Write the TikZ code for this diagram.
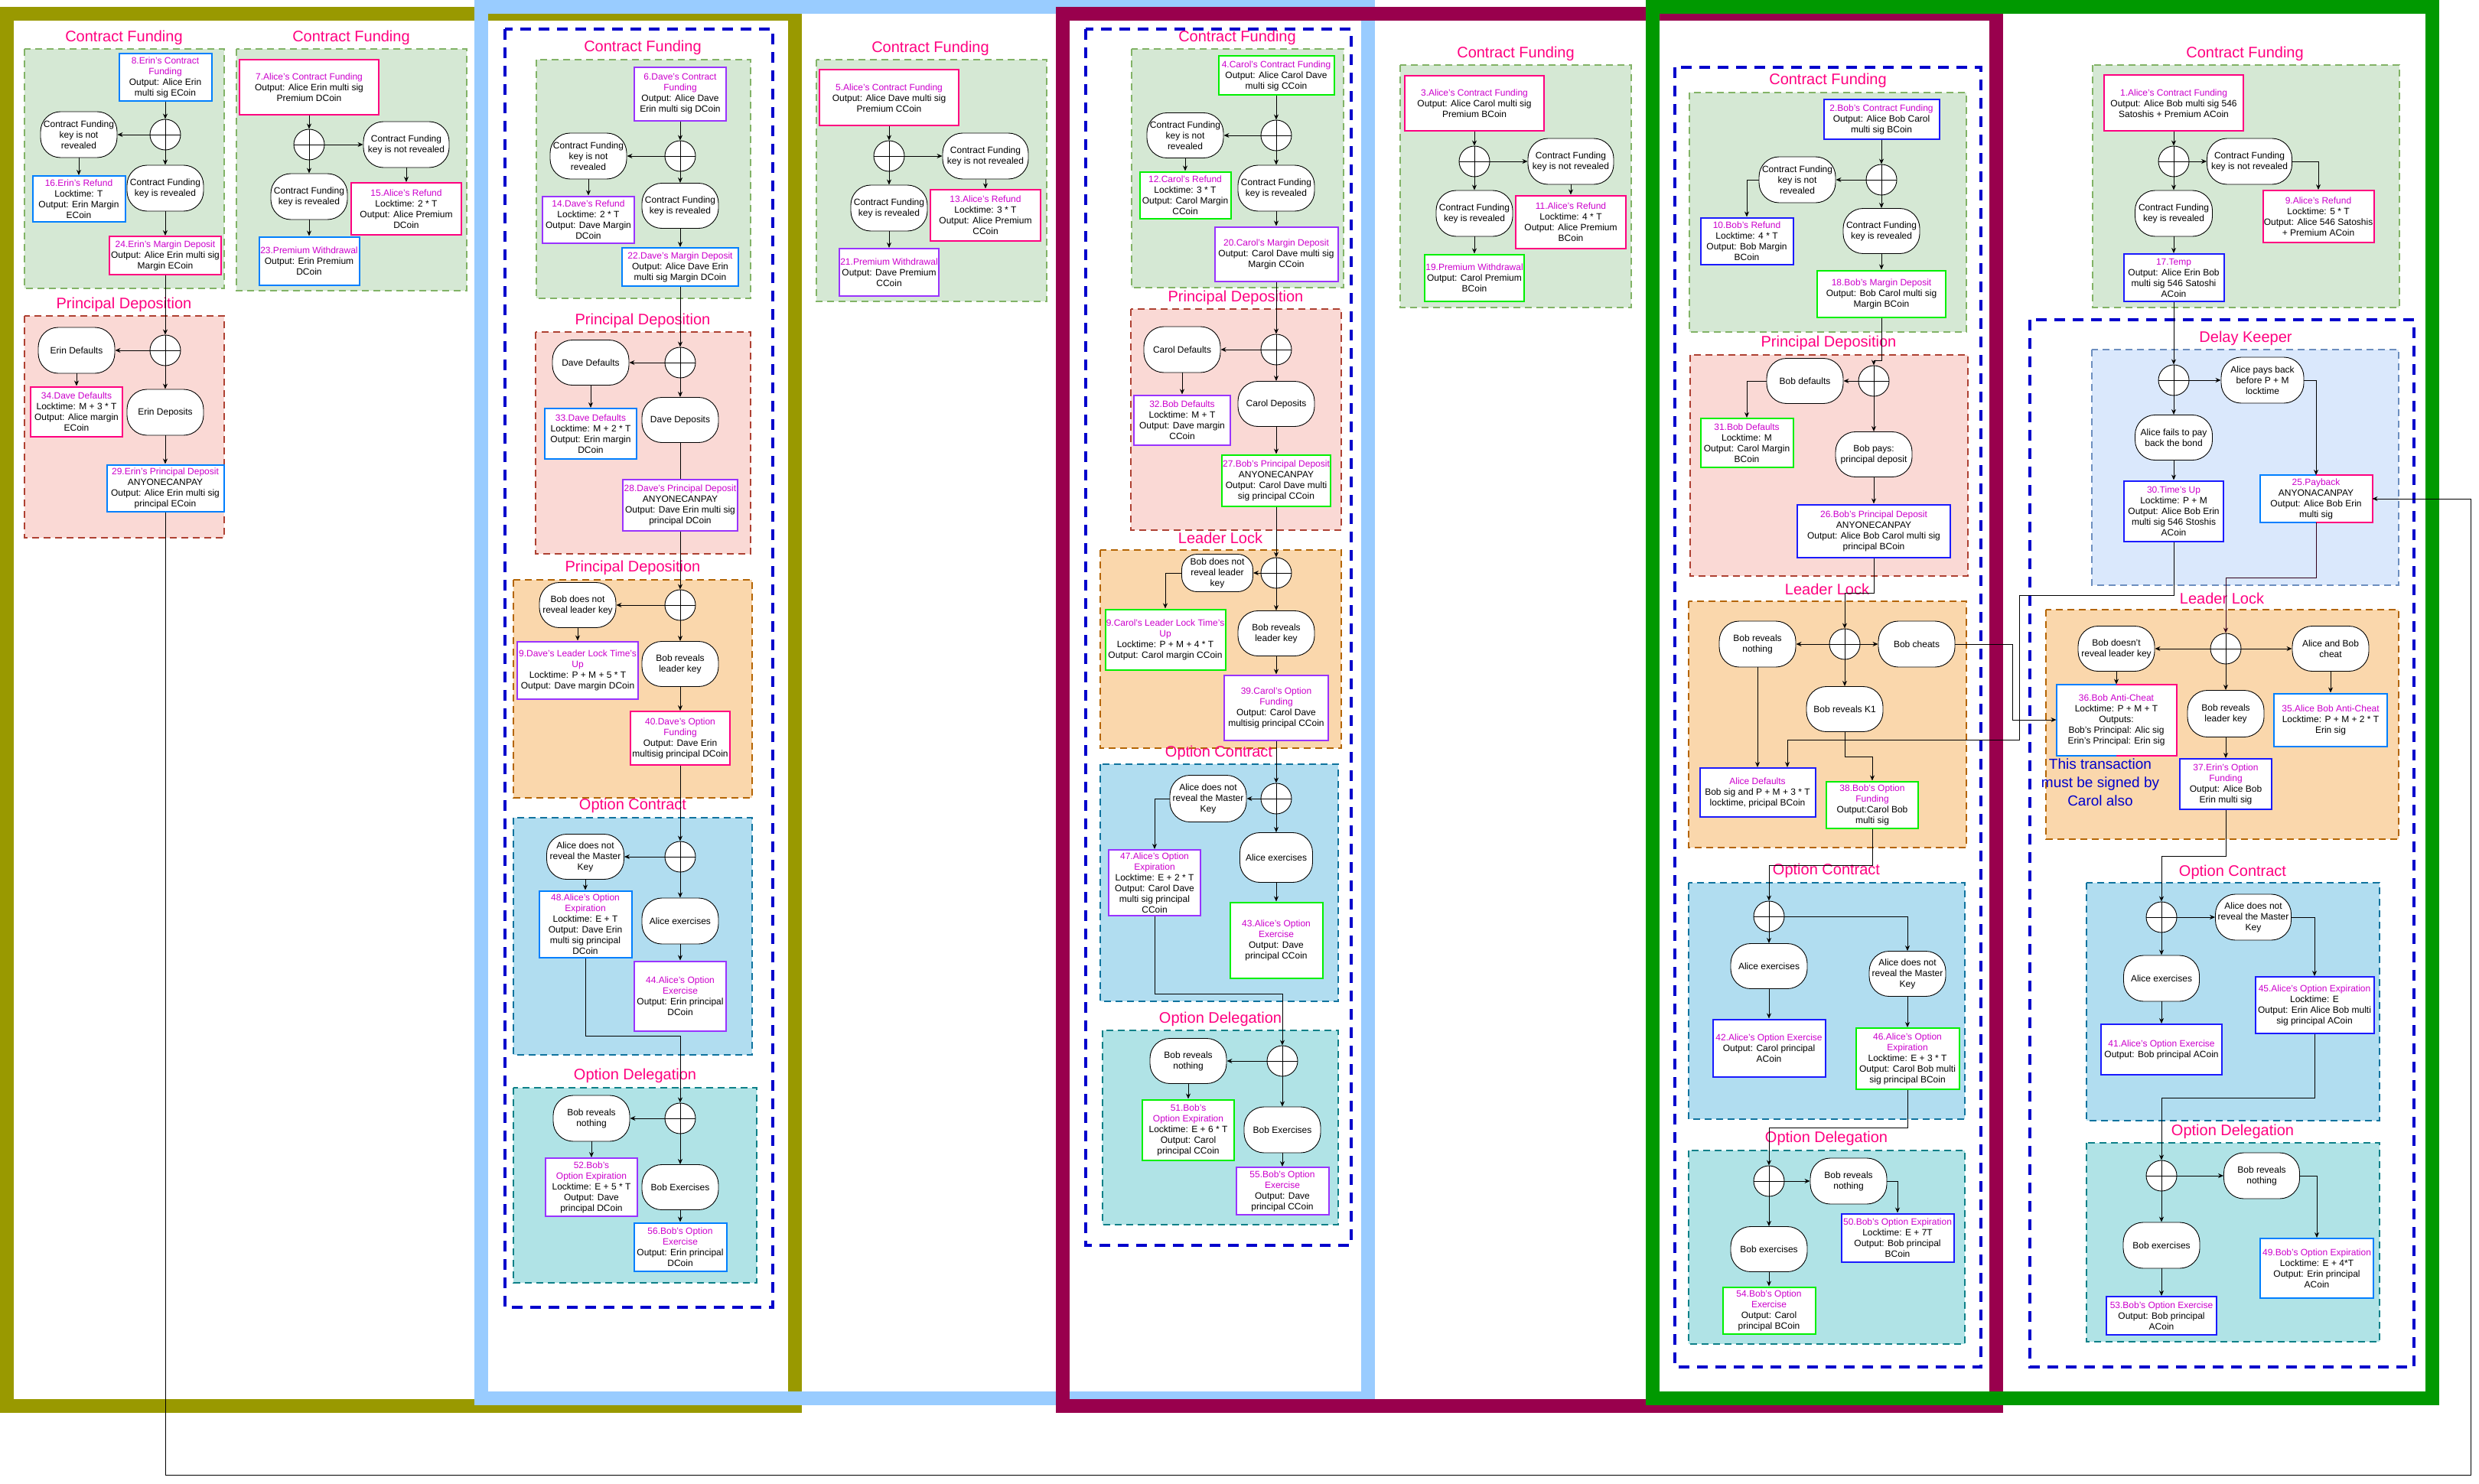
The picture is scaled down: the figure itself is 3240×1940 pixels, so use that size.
\documentclass[tikz,border=0pt]{standalone}
\usepackage{fontspec}
\setmainfont{Liberation Sans}
\usetikzlibrary{arrows.meta}

\definecolor{frOlive}{HTML}{999900}
\definecolor{frSky}{HTML}{99CCFF}
\definecolor{frWine}{HTML}{99004D}
\definecolor{frGreen}{HTML}{009900}
\definecolor{secPink}{HTML}{FF0080}
\definecolor{tMag}{HTML}{CC00CC}
\definecolor{bPink}{HTML}{FF0080}
\definecolor{bBlue}{HTML}{007FFF}
\definecolor{bDBlue}{HTML}{1A1AFF}
\definecolor{bPurp}{HTML}{9933FF}
\definecolor{bGreen}{HTML}{00F000}
\definecolor{outBlue}{HTML}{0000CC}
\definecolor{cgF}{HTML}{D5E8D4}\definecolor{cgD}{HTML}{82B366}
\definecolor{crF}{HTML}{FAD9D5}\definecolor{crD}{HTML}{AE4132}
\definecolor{coF}{HTML}{FAD7AC}\definecolor{coD}{HTML}{B46504}
\definecolor{cbF}{HTML}{B1DDF0}\definecolor{cbD}{HTML}{10739E}
\definecolor{ctF}{HTML}{B0E3E6}\definecolor{ctD}{HTML}{0E8088}
\definecolor{clF}{HTML}{DAE8FC}\definecolor{clD}{HTML}{6C8EBF}
\definecolor{wireDark}{HTML}{330019}

\newcommand\tn[1]{\textcolor{tMag}{#1}}
\newcommand\bodyfont{\fontsize{12}{14}\selectfont}

\begin{document}
\begin{tikzpicture}[x=1pt,y=-1pt,
  tx/.style={draw=#1, line width=2pt, fill=white, align=center, inner sep=1pt, font=\bodyfont},
  sz/.style 2 args={minimum width=#1pt, minimum height=#2pt},
  ev/.style={draw=black, line width=0.9pt, fill=white, align=center, inner sep=1pt, rounded corners=26pt, font=\bodyfont},
  xr/.style={circle, draw=black, line width=0.9pt, fill=white, minimum size=40pt, inner sep=0pt,
    path picture={\draw[line width=0.9pt] (path picture bounding box.north) -- (path picture bounding box.south)
      (path picture bounding box.west) -- (path picture bounding box.east);}},
  sec/.style={text=secPink, font=\fontsize{20}{24}\selectfont, inner sep=0pt},
  note/.style={text=outBlue, font=\fontsize{19}{24}\selectfont, align=center, inner sep=0pt},
  arr/.style={line width=1pt, -{Stealth[length=7pt,width=6pt]}},
  ln/.style={line width=1pt},
  box/.style 2 args={fill=#1, draw=#2, line width=2pt, dash pattern=on 9pt off 6pt},
  cg/.style={box={cgF}{cgD}}, cr/.style={box={crF}{crD}}, co/.style={box={coF}{coD}},
  cb/.style={box={cbF}{cbD}}, ct/.style={box={ctF}{ctD}}, cl/.style={box={clF}{clD}},
  ob/.style={draw=outBlue, line width=3.5pt, dash pattern=on 14pt off 10pt},
  fr/.style={draw=#1, line width=18pt}
]
\useasboundingbox (0,0) rectangle (3240,1940);
\fill[white] (0,0) rectangle (3240,1940);

% ---------- coloured party frames ----------
\draw[fr=frOlive] (9,18) rectangle (1039,1838);
\draw[fr=frSky] (629,9) rectangle (1788,1828);
\draw[fr=frWine] (1389,18) rectangle (2609,1838);
\draw[fr=frGreen] (2160,9) rectangle (3179,1828);

% ---------- phase containers ----------
% Erin / Alice-Erin premium
\draw[cg] (32,64) rectangle (293,377);
\draw[cr] (32,413) rectangle (293,703);
\draw[cg] (309,64) rectangle (610,380);
% Dave
\draw[ob] (660,38) rectangle (1010,1709);
\draw[cg] (701,78) rectangle (981,390);
\draw[cr] (700,434) rectangle (981,724);
\draw[co] (671,758) rectangle (983,1043);
\draw[cb] (671,1069) rectangle (983,1379);
\draw[ct] (671,1422) rectangle (989,1677);
\draw[cg] (1067,78) rectangle (1368,394);
% Carol
\draw[ob] (1419,38) rectangle (1766,1628);
\draw[cg] (1479,64) rectangle (1756,376);
\draw[cr] (1478,404) rectangle (1753,693);
\draw[co] (1438,719) rectangle (1753,978);
\draw[cb] (1438,999) rectangle (1749,1309);
\draw[ct] (1441,1347) rectangle (1749,1601);
\draw[cg] (1830,85) rectangle (2132,402);
% Bob
\draw[ob] (2189,88) rectangle (2589,1787);
\draw[cg] (2208,121) rectangle (2570,434);
\draw[cr] (2209,464) rectangle (2572,753);
\draw[co] (2207,786) rectangle (2570,1108);
\draw[cb] (2207,1154) rectangle (2568,1463);
\draw[ct] (2207,1504) rectangle (2568,1757);
% Alice
\draw[cg] (2735,85) rectangle (3136,402);
\draw[ob] (2653,418) rectangle (3155,1787);
\draw[cl] (2734,457) rectangle (3135,765);
\draw[co] (2674,797) rectangle (3135,1097);
\draw[cb] (2727,1154) rectangle (3110,1465);
\draw[ct] (2727,1494) rectangle (3110,1754);

% ---------- phase titles ----------
\node[sec] (ta1) at (162,49) {Contract Funding};
\node[sec] (ta2) at (162,398) {Principal Deposition};
\node[sec] (tb1) at (459,49) {Contract Funding};
\node[sec] (tc1) at (840,62) {Contract Funding};
\node[sec] (tc2) at (840,419) {Principal Deposition};
\node[sec] (tc3) at (827,742) {Principal Deposition};
\node[sec] (tc4) at (827,1053) {Option Contract};
\node[sec] (tc5) at (830,1406) {Option Delegation};
\node[sec] (td1) at (1216,63) {Contract Funding};
\node[sec] (te1) at (1617,49) {Contract Funding};
\node[sec] (te2) at (1615,389) {Principal Deposition};
\node[sec] (te3) at (1595,703) {Leader Lock};
\node[sec] (te4) at (1593,984) {Option Contract};
\node[sec] (te5) at (1595,1332) {Option Delegation};
\node[sec] (tf1) at (1981,70) {Contract Funding};
\node[sec] (tg1) at (2389,105) {Contract Funding};
\node[sec] (tg2) at (2390,448) {Principal Deposition};
\node[sec] (tg3) at (2388,770) {Leader Lock};
\node[sec] (tg4) at (2387,1138) {Option Contract};
\node[sec] (tg5) at (2387,1488) {Option Delegation};
\node[sec] (th1) at (2934,70) {Contract Funding};
\node[sec] (th2) at (2935,442) {Delay Keeper};
\node[sec] (th3) at (2904,782) {Leader Lock};
\node[sec] (th4) at (2918,1140) {Option Contract};
\node[sec] (th5) at (2918,1479) {Option Delegation};

% ---------- Erin ----------
\node[tx=bBlue, sz={121}{62}] (n8) at (216,101) {\tn{8.Erin's Contract}\\\tn{Funding}\\Output: Alice Erin\\multi sig ECoin};
\node[xr] (xa1) at (216,176) {};
\node[ev, sz={100}{60}] (ea1) at (103,176) {Contract Funding\\key is not\\revealed};
\node[tx=bBlue, sz={121}{60}] (n16) at (103,260) {\tn{16.Erin's Refund}\\Locktime: T\\Output: Erin Margin\\ECoin};
\node[ev, sz={100}{60}] (ea2) at (216,246) {Contract Funding\\key is revealed};
\node[tx=bPink, sz={146}{50}] (n24) at (216,334) {\tn{24.Erin's Margin Deposit}\\Output: Alice Erin multi sig\\Margin ECoin};
\node[xr] (xa2) at (216,458) {};
\node[ev, sz={100}{60}] (ea3) at (100,458) {Erin Defaults};
\node[tx=bPink, sz={120}{65}] (n34) at (100,538) {\tn{34.Dave Defaults}\\Locktime: M + 3 * T\\Output: Alice margin\\ECoin};
\node[ev, sz={100}{60}] (ea4) at (216,539) {Erin Deposits};
\node[tx=bBlue, sz={153}{61}] (n29) at (216,638) {\tn{29.Erin's Principal Deposit}\\ANYONECANPAY\\Output: Alice Erin multi sig\\principal ECoin};

% ---------- Alice / Erin premium ----------
\node[tx=bPink, sz={182}{72}] (n7) at (404,114) {\tn{7.Alice's Contract Funding}\\Output: Alice Erin multi sig\\Premium DCoin};
\node[xr] (xb) at (404,189) {};
\node[ev, sz={112}{60}] (eb1) at (531,189) {Contract Funding\\key is not revealed};
\node[tx=bPink, sz={144}{68}] (n15) at (531,273) {\tn{15.Alice's Refund}\\Locktime: 2 * T\\Output: Alice Premium\\DCoin};
\node[ev, sz={100}{60}] (eb2) at (404,257) {Contract Funding\\key is revealed};
\node[tx=bBlue, sz={131}{63}] (n23) at (404,341) {\tn{23.Premium Withdrawal}\\Output: Erin Premium\\DCoin};

% ---------- Dave ----------
\node[tx=bPurp, sz={120}{70}] (n6) at (889,123) {\tn{6.Dave's Contract}\\\tn{Funding}\\Output: Alice Dave\\Erin multi sig DCoin};
\node[xr] (xc1) at (889,204) {};
\node[ev, sz={100}{60}] (ec1) at (769,204) {Contract Funding\\key is not\\revealed};
\node[tx=bPurp, sz={120}{61}] (n14) at (769,287) {\tn{14.Dave's Refund}\\Locktime: 2 * T\\Output: Dave Margin\\DCoin};
\node[ev, sz={100}{59}] (ec2) at (889,269) {Contract Funding\\key is revealed};
\node[tx=bBlue, sz={152}{50}] (n22) at (889,349) {\tn{22.Dave's Margin Deposit}\\Output: Alice Dave Erin\\multi sig Margin DCoin};
\node[xr] (xc2) at (889,474) {};
\node[ev, sz={100}{59}] (ec3) at (772,474) {Dave Defaults};
\node[tx=bBlue, sz={120}{66}] (n33) at (772,567) {\tn{33.Dave Defaults}\\Locktime: M + 2 * T\\Output: Erin margin\\DCoin};
\node[ev, sz={100}{59}] (ec4) at (889,549) {Dave Deposits};
\node[tx=bPurp, sz={150}{67}] (n28) at (889,660) {\tn{28.Dave's Principal Deposit}\\ANYONECANPAY\\Output: Dave Erin multi sig\\principal DCoin};
\node[xr] (xc3) at (889,791) {};
\node[ev, sz={100}{59}] (ec5) at (755,791) {Bob does not\\reveal leader key};
\node[tx=bPurp, sz={158}{75}] (n9d) at (755,876) {\tn{9.Dave's Leader Lock Time's}\\\tn{Up}\\Locktime: P + M + 5 * T\\Output: Dave margin DCoin};
\node[ev, sz={100}{59}] (ec6) at (889,868) {Bob reveals\\leader key};
\node[tx=bPink, sz={130}{70}] (n40) at (889,965) {\tn{40.Dave's Option}\\\tn{Funding}\\Output: Dave Erin\\multisig principal DCoin};
\node[xr] (xc4) at (889,1120) {};
\node[ev, sz={101}{59}] (ec7) at (765,1120) {Alice does not\\reveal the Master\\Key};
\node[tx=bBlue, sz={121}{87}] (n48) at (765,1208) {\tn{48.Alice's Option}\\\tn{Expiration}\\Locktime: E + T\\Output: Dave Erin\\multi sig principal\\DCoin};
\node[ev, sz={100}{60}] (ec8) at (889,1204) {Alice exercises};
\node[tx=bPurp, sz={120}{91}] (n44) at (889,1302) {\tn{44.Alice's Option}\\\tn{Exercise}\\Output: Erin principal\\DCoin};
\node[xr] (xc5) at (889,1462) {};
\node[ev, sz={100}{60}] (ec9) at (773,1462) {Bob reveals\\nothing};
\node[tx=bPurp, sz={120}{76}] (n52) at (773,1552) {\tn{52.Bob's}\\\tn{Option Expiration}\\Locktime: E + 5 * T\\Output: Dave\\principal DCoin};
\node[ev, sz={100}{59}] (ec10) at (889,1552) {Bob Exercises};
\node[tx=bBlue, sz={121}{63}] (n56) at (889,1630) {\tn{56.Bob's Option}\\\tn{Exercise}\\Output: Erin principal\\DCoin};

% ---------- Alice / Dave premium ----------
\node[tx=bPink, sz={182}{73}] (n5) at (1162,128) {\tn{5.Alice's Contract Funding}\\Output: Alice Dave multi sig\\Premium CCoin};
\node[xr] (xd) at (1162,204) {};
\node[ev, sz={112}{60}] (ed1) at (1288,204) {Contract Funding\\key is not revealed};
\node[tx=bPink, sz={144}{67}] (n13) at (1288,281) {\tn{13.Alice's Refund}\\Locktime: 3 * T\\Output: Alice Premium\\CCoin};
\node[ev, sz={100}{60}] (ed2) at (1162,272) {Contract Funding\\key is revealed};
\node[tx=bPurp, sz={130}{62}] (n21) at (1162,356) {\tn{21.Premium Withdrawal}\\Output: Dave Premium\\CCoin};

% ---------- Carol ----------
\node[tx=bGreen, sz={151}{51}] (n4) at (1668,99) {\tn{4.Carol's Contract Funding}\\Output: Alice Carol Dave\\multi sig CCoin};
\node[xr] (xe1) at (1668,177) {};
\node[ev, sz={100}{59}] (ee1) at (1549,177) {Contract Funding\\key is not\\revealed};
\node[tx=bGreen, sz={119}{61}] (n12) at (1549,255) {\tn{12.Carol's Refund}\\Locktime: 3 * T\\Output: Carol Margin\\CCoin};
\node[ev, sz={100}{60}] (ee2) at (1668,246) {Contract Funding\\key is revealed};
\node[tx=bPurp, sz={161}{71}] (n20) at (1668,332) {\tn{20.Carol's Margin Deposit}\\Output: Carol Dave multi sig\\Margin CCoin};
\node[xr] (xe2) at (1668,457) {};
\node[ev, sz={100}{60}] (ee3) at (1545,457) {Carol Defaults};
\node[tx=bPurp, sz={126}{65}] (n32) at (1545,549) {\tn{32.Bob Defaults}\\Locktime: M + T\\Output: Dave margin\\CCoin};
\node[ev, sz={100}{59}] (ee4) at (1668,528) {Carol Deposits};
\node[tx=bGreen, sz={142}{67}] (n27) at (1668,628) {\tn{27.Bob's Principal Deposit}\\ANYONECANPAY\\Output: Carol Dave multi\\sig principal CCoin};
\node[xr] (xe3) at (1668,749) {};
\node[ev, sz={93}{49}, rounded corners=20pt] (ee5) at (1591,749) {Bob does not\\reveal leader\\key};
\node[tx=bGreen, sz={157}{79}] (n9c) at (1523,836) {\tn{9.Carol's Leader Lock Time's}\\\tn{Up}\\Locktime: P + M + 4 * T\\Output: Carol margin CCoin};
\node[ev, sz={100}{59}] (ee6) at (1668,828) {Bob reveals\\leader key};
\node[tx=bPurp, sz={136}{85}] (n39) at (1668,925) {\tn{39.Carol's Option}\\\tn{Funding}\\Output: Carol Dave\\multisig principal CCoin};
\node[xr] (xe4) at (1668,1044) {};
\node[ev, sz={100}{61}] (ee7) at (1579,1044) {Alice does not\\reveal the Master\\Key};
\node[tx=bPurp, sz={120}{86}] (n47) at (1509,1154) {\tn{47.Alice's Option}\\\tn{Expiration}\\Locktime: E + 2 * T\\Output: Carol Dave\\multi sig principal\\CCoin};
\node[ev, sz={95}{65}] (ee8) at (1668,1121) {Alice exercises};
\node[tx=bGreen, sz={121}{99}] (n43) at (1668,1229) {\tn{43.Alice's Option}\\\tn{Exercise}\\Output: Dave\\principal CCoin};
\node[xr] (xe5) at (1676,1387) {};
\node[ev, sz={100}{59}] (ee9) at (1553,1387) {Bob reveals\\nothing};
\node[tx=bGreen, sz={120}{79}] (n51) at (1553,1477) {\tn{51.Bob's}\\\tn{Option Expiration}\\Locktime: E + 6 * T\\Output: Carol\\principal CCoin};
\node[ev, sz={100}{60}] (ee10) at (1676,1477) {Bob Exercises};
\node[tx=bPurp, sz={121}{62}] (n55) at (1676,1557) {\tn{55.Bob's Option}\\\tn{Exercise}\\Output: Dave\\principal CCoin};

% ---------- Alice / Carol premium ----------
\node[tx=bPink, sz={182}{72}] (n3) at (1927,135) {\tn{3.Alice's Contract Funding}\\Output: Alice Carol multi sig\\Premium BCoin};
\node[xr] (xf) at (1927,211) {};
\node[ev, sz={112}{60}] (ef1) at (2053,211) {Contract Funding\\key is not revealed};
\node[tx=bPink, sz={144}{69}] (n11) at (2053,290) {\tn{11.Alice's Refund}\\Locktime: 4 * T\\Output: Alice Premium\\BCoin};
\node[ev, sz={100}{60}] (ef2) at (1927,279) {Contract Funding\\key is revealed};
\node[tx=bGreen, sz={130}{61}] (n19) at (1927,363) {\tn{19.Premium Withdrawal}\\Output: Carol Premium\\BCoin};

% ---------- Bob ----------
\node[tx=bDBlue, sz={151}{51}] (n2) at (2459,156) {\tn{2.Bob's Contract Funding}\\Output: Alice Bob Carol\\multi sig BCoin};
\node[xr] (xg1) at (2459,235) {};
\node[ev, sz={100}{60}] (eg1) at (2349,235) {Contract Funding\\key is not\\revealed};
\node[tx=bDBlue, sz={121}{61}] (n10) at (2283,315) {\tn{10.Bob's Refund}\\Locktime: 4 * T\\Output: Bob Margin\\BCoin};
\node[ev, sz={100}{59}] (eg2) at (2459,302) {Contract Funding\\key is revealed};
\node[tx=bGreen, sz={168}{61}] (n18) at (2459,384) {\tn{18.Bob's Margin Deposit}\\Output: Bob Carol multi sig\\Margin BCoin};
\node[xr] (xg2) at (2449,498) {};
\node[ev, sz={100}{59}] (eg3) at (2359,498) {Bob defaults};
\node[tx=bGreen, sz={121}{64}] (n31) at (2283,579) {\tn{31.Bob Defaults}\\Locktime: M\\Output: Carol Margin\\BCoin};
\node[ev, sz={100}{59}] (eg4) at (2449,594) {Bob pays:\\principal deposit};
\node[tx=bDBlue, sz={200}{69}] (n26) at (2449,694) {\tn{26.Bob's Principal Deposit}\\ANYONECANPAY\\Output: Alice Bob Carol multi sig\\principal BCoin};
\node[xr] (xg3) at (2411,842) {};
\node[ev, sz={100}{60}] (eg5) at (2297,842) {Bob reveals\\nothing};
\node[ev, sz={100}{60}] (eg6) at (2505,842) {Bob cheats};
\node[ev, sz={100}{59}] (eg7) at (2411,927) {Bob reveals K1};
\node[tx=bDBlue, sz={151}{64}] (nad) at (2297,1036) {\tn{Alice Defaults}\\Bob sig and P + M + 3 * T\\locktime, pricipal BCoin};
\node[tx=bGreen, sz={120}{61}] (n38) at (2447,1052) {\tn{38.Bob's Option}\\\tn{Funding}\\Output:Carol Bob\\multi sig};
\node[xr] (xg4) at (2312,1198) {};
\node[ev, sz={100}{59}] (eg8) at (2312,1263) {Alice exercises};
\node[tx=bDBlue, sz={147}{75}] (n42) at (2312,1370) {\tn{42.Alice's Option Exercise}\\Output: Carol principal\\ACoin};
\node[ev, sz={100}{59}] (eg9) at (2493,1273) {Alice does not\\reveal the Master\\Key};
\node[tx=bGreen, sz={135}{80}] (n46) at (2493,1384) {\tn{46.Alice's Option}\\\tn{Expiration}\\Locktime: E + 3 * T\\Output: Carol Bob multi\\sig principal BCoin};
\node[xr] (xg5) at (2312,1544) {};
\node[ev, sz={100}{60}] (eg10) at (2416,1544) {Bob reveals\\nothing};
\node[tx=bDBlue, sz={147}{63}] (n50) at (2480,1618) {\tn{50.Bob's Option Expiration}\\Locktime: E + 7T\\Output: Bob principal\\BCoin};
\node[ev, sz={100}{59}] (eg11) at (2312,1633) {Bob exercises};
\node[tx=bGreen, sz={121}{61}] (n54) at (2312,1713) {\tn{54.Bob's Option}\\\tn{Exercise}\\Output: Carol\\principal BCoin};

% ---------- Alice ----------
\node[tx=bPink, sz={182}{73}] (n1) at (2841,135) {\tn{1.Alice's Contract Funding}\\Output: Alice Bob multi sig 546\\Satoshis + Premium ACoin};
\node[xr] (xh1) at (2841,211) {};
\node[ev, sz={111}{60}] (eh1) at (2940,211) {Contract Funding\\key is not revealed};
\node[tx=bPink, sz={145}{68}] (n9a) at (3030,283) {\tn{9.Alice's Refund}\\Locktime: 5 * T\\Output: Alice 546 Satoshis\\+ Premium ACoin};
\node[ev, sz={101}{60}] (eh2) at (2841,279) {Contract Funding\\key is revealed};
\node[tx=bDBlue, sz={131}{62}] (n17) at (2841,363) {\tn{17.Temp}\\Output: Alice Erin Bob\\multi sig 546 Satoshi\\ACoin};
\node[xr] (xh2) at (2841,497) {};
\node[ev, sz={108}{60}] (eh3) at (2957,497) {Alice pays back\\before P + M\\locktime};
\node[tx=none, sz={145}{60}] (n25) at (3027,652) {\tn{25.Payback}\\ANYONACANPAY\\Output: Alice Bob Erin\\multi sig};
\node[ev, sz={101}{59}] (eh4) at (2841,572) {Alice fails to pay\\back the bond};
\node[tx=bDBlue, sz={130}{79}] (n30) at (2841,668) {\tn{30.Time's Up}\\Locktime: P + M\\Output: Alice Bob Erin\\multi sig 546 Stoshis\\ACoin};
\node[xr] (xh3) at (2909,848) {};
\node[ev, sz={100}{59}] (eh5) at (2766,848) {Bob doesn't\\reveal leader key};
\node[ev, sz={100}{59}] (eh6) at (3046,848) {Alice and Bob\\cheat};
\node[tx=none, sz={155}{91}] (n36) at (2766,941) {\tn{36.Bob Anti-Cheat}\\Locktime: P + M + T\\Outputs:\\Bob's Principal: Alic sig\\Erin's Principal: Erin sig};
\node[ev, sz={100}{61}] (eh7) at (2909,933) {Bob reveals\\leader key};
\node[tx=bBlue, sz={148}{69}] (n35) at (3046,941) {\tn{35.Alice Bob Anti-Cheat}\\Locktime: P + M + 2 * T\\Erin sig};
\node[tx=bDBlue, sz={120}{66}] (n37) at (2909,1025) {\tn{37.Erin's Option}\\\tn{Funding}\\Output: Alice Bob\\Erin multi sig};
\node[note] (carolnote) at (2745,1023) {This transaction\\must be signed by\\Carol also};
\node[xr] (xh4) at (2825,1199) {};
\node[ev, sz={99}{60}] (eh8) at (2945,1199) {Alice does not\\reveal the Master\\Key};
\node[tx=bDBlue, sz={155}{74}] (n45) at (3025,1314) {\tn{45.Alice's Option Expiration}\\Locktime: E\\Output: Erin Alice Bob multi\\sig principal ACoin};
\node[ev, sz={99}{60}] (eh9) at (2825,1279) {Alice exercises};
\node[tx=bDBlue, sz={158}{66}] (n41) at (2825,1372) {\tn{41.Alice's Option Exercise}\\Output: Bob principal ACoin};
\node[xr] (xh5) at (2825,1537) {};
\node[ev, sz={99}{60}] (eh10) at (2956,1537) {Bob reveals\\nothing};
\node[tx=bBlue, sz={148}{78}] (n49) at (3028,1658) {\tn{49.Bob's Option Expiration}\\Locktime: E + 4*T\\Output: Erin principal\\ACoin};
\node[ev, sz={100}{60}] (eh11) at (2825,1628) {Bob exercises};
\node[tx=bDBlue, sz={144}{50}] (n53) at (2825,1720) {\tn{53.Bob's Option Exercise}\\Output: Bob principal\\ACoin};

% two-tone borders of the jointly signed transactions
\foreach \n in {n25,n36} {
  \draw[line width=2pt, bBlue] (\n.north) -- (\n.north west) -- (\n.south west) -- (\n.south);
  \draw[line width=2pt, bPink] (\n.north) -- (\n.north east) -- (\n.south east) -- (\n.south);
}

% ---------- connectors: Erin ----------
\draw[arr] (n8) -- (xa1);
\draw[arr] (xa1) -- (ea1);
\draw[arr] (ea1) -- (n16);
\draw[arr] (xa1) -- (ea2);
\draw[arr] (ea2) -- (n24);
\draw[arr] (n24) -- (xa2);
\draw[arr] (xa2) -- (ea3);
\draw[arr] (ea3) -- (n34);
\draw[arr] (xa2) -- (ea4);
\draw[arr] (ea4) -- (n29);

% ---------- connectors: Alice / Erin premium ----------
\draw[arr] (n7) -- (xb);
\draw[arr] (xb) -- (eb1);
\draw[arr] (eb1) -- (n15);
\draw[arr] (xb) -- (eb2);
\draw[arr] (eb2) -- (n23);

% ---------- connectors: Dave ----------
\draw[arr] (n6) -- (xc1);
\draw[arr] (xc1) -- (ec1);
\draw[arr] (ec1) -- (n14);
\draw[arr] (xc1) -- (ec2);
\draw[arr] (ec2) -- (n22);
\draw[arr] (n22) -- (xc2);
\draw[arr] (xc2) -- (ec3);
\draw[arr] (ec3) -- (n33);
\draw[arr] (xc2) -- (ec4);
\draw[ln] (ec4) -- (n28);
\draw[arr] (n28) -- (xc3);
\draw[arr] (xc3) -- (ec5);
\draw[arr] (ec5) -- (n9d);
\draw[arr] (xc3) -- (ec6);
\draw[arr] (ec6) -- (n40);
\draw[arr] (n40) -- (xc4);
\draw[arr] (xc4) -- (ec7);
\draw[arr] (ec7) -- (n48);
\draw[arr] (xc4) -- (ec8);
\draw[arr] (ec8) -- (n44);
\draw[arr] (n48.south) -- ++(0,102) -| (xc5.north);
\draw[arr] (xc5) -- (ec9);
\draw[arr] (ec9) -- (n52);
\draw[arr] (xc5) -- (ec10);
\draw[arr] (ec10) -- (n56);

% ---------- connectors: Alice / Dave premium ----------
\draw[arr] (n5) -- (xd);
\draw[arr] (xd) -- (ed1);
\draw[arr] (ed1) -- (n13);
\draw[arr] (xd) -- (ed2);
\draw[arr] (ed2) -- (n21);

% ---------- connectors: Carol ----------
\draw[arr] (n4) -- (xe1);
\draw[arr] (xe1) -- (ee1);
\draw[arr] (ee1) -- (n12);
\draw[arr] (xe1) -- (ee2);
\draw[arr] (ee2) -- (n20);
\draw[arr] (n20) -- (xe2);
\draw[arr] (xe2) -- (ee3);
\draw[arr] (ee3) -- (n32);
\draw[arr] (xe2) -- (ee4);
\draw[arr] (ee4) -- (n27);
\draw[arr] (n27) -- (xe3);
\draw[arr] (xe3) -- (ee5);
\draw[arr] (ee5.west) -| (n9c.north);
\draw[arr] (xe3) -- (ee6);
\draw[arr] (ee6) -- (n39);
\draw[arr] (n39) -- (xe4);
\draw[arr] (xe4) -- (ee7);
\draw[arr] (ee7.west) -| (n47.north);
\draw[arr] (xe4) -- (ee8);
\draw[arr] (ee8) -- (n43);
\draw[arr] (n47.south) -- ++(0,101) -| (xe5.north);
\draw[arr] (xe5) -- (ee9);
\draw[arr] (ee9) -- (n51);
\draw[arr] (xe5) -- (ee10);
\draw[arr] (ee10) -- (n55);

% ---------- connectors: Alice / Carol premium ----------
\draw[arr] (n3) -- (xf);
\draw[arr] (xf) -- (ef1);
\draw[arr] (ef1) -- (n11);
\draw[arr] (xf) -- (ef2);
\draw[arr] (ef2) -- (n19);

% ---------- connectors: Bob ----------
\draw[arr] (n2) -- (xg1);
\draw[arr] (xg1) -- (eg1);
\draw[arr] (eg1.west) -| (n10.north);
\draw[arr] (xg1) -- (eg2);
\draw[arr] (eg2) -- (n18);
\draw[arr] (n18.south) -- ++(0,56) -| (xg2.north);
\draw[arr] (xg2) -- (eg3);
\draw[arr] (eg3.west) -| (n31.north);
\draw[arr] (xg2) -- (eg4);
\draw[arr] (eg4) -- (n26);
\draw[arr] (n26.south) -- ++(0,46) -| (xg3.north);
\draw[arr] (xg3) -- (eg5);
\draw[arr] (xg3) -- (eg6);
\draw[arr] (xg3) -- (eg7);
\draw[arr] (eg5) -- (nad);
\draw[arr] (eg7.south) -- ++(0,33) -| (n38.north);
\draw[arr] (eg6.east) -- ++(75,0) |- (n36.west);
\draw[arr] (n30.south) -- ++(0,70) -- ++(-202,0) -- ++(0,189) -| ([xshift=39pt]nad.north);
\draw[arr] (n38.south) -- ++(0,48) -| (xg4.north);
\draw[arr] (xg4) -- (eg8);
\draw[arr] (eg8) -- (n42);
\draw[arr] (xg4.east) -| (eg9.north);
\draw[arr] (eg9) -- (n46);
\draw[arr] (n46.south) -- ++(0,49) -| (xg5.north);
\draw[arr] (xg5) -- (eg10);
\draw[arr] (eg10.east) -| (n50.north);
\draw[arr] (xg5) -- (eg11);
\draw[arr] (eg11) -- (n54);

% ---------- connectors: Alice ----------
\draw[arr] (n1) -- (xh1);
\draw[arr] (xh1) -- (eh1);
\draw[arr] (eh1.east) -| (n9a.north);
\draw[arr] (xh1) -- (eh2);
\draw[arr] (eh2) -- (n17);
\draw[arr] (n17) -- (xh2);
\draw[arr] (xh2) -- (eh3);
\draw[arr] (eh3.east) -| (n25.north);
\draw[arr] (xh2) -- (eh4);
\draw[arr] (eh4) -- (n30);
\draw[arr, wireDark] (n25.south) -- ++(0,72) -| (xh3.north);
\draw[arr] (xh3) -- (eh5);
\draw[arr] (xh3) -- (eh6);
\draw[arr] (xh3) -- (eh7);
\draw[arr] (eh5) -- (n36);
\draw[arr] (eh6) -- (n35);
\draw[arr] (eh7) -- (n37);
\draw[arr] (n37.south) -- ++(0,60) -| (xh4.north);
\draw[arr] (xh4) -- (eh8);
\draw[arr] (eh8.east) -| (n45.north);
\draw[arr] (xh4) -- (eh9);
\draw[arr] (eh9) -- (n41);
\draw[arr] (n45.south) -- ++(0,83) -| (xh5.north);
\draw[arr] (xh5) -- (eh10);
\draw[arr] (eh10.east) -| (n49.north);
\draw[arr] (xh5) -- (eh11);
\draw[arr] (eh11) -- (n53);

% Erin's principal deposit feeds the payback transaction
\draw[line width=0.8pt, -{Stealth[length=7pt,width=6pt]}] (n29.south) -- ++(0,1259) -- ++(3013,0) |- (n25.east);
\end{tikzpicture}
\end{document}
